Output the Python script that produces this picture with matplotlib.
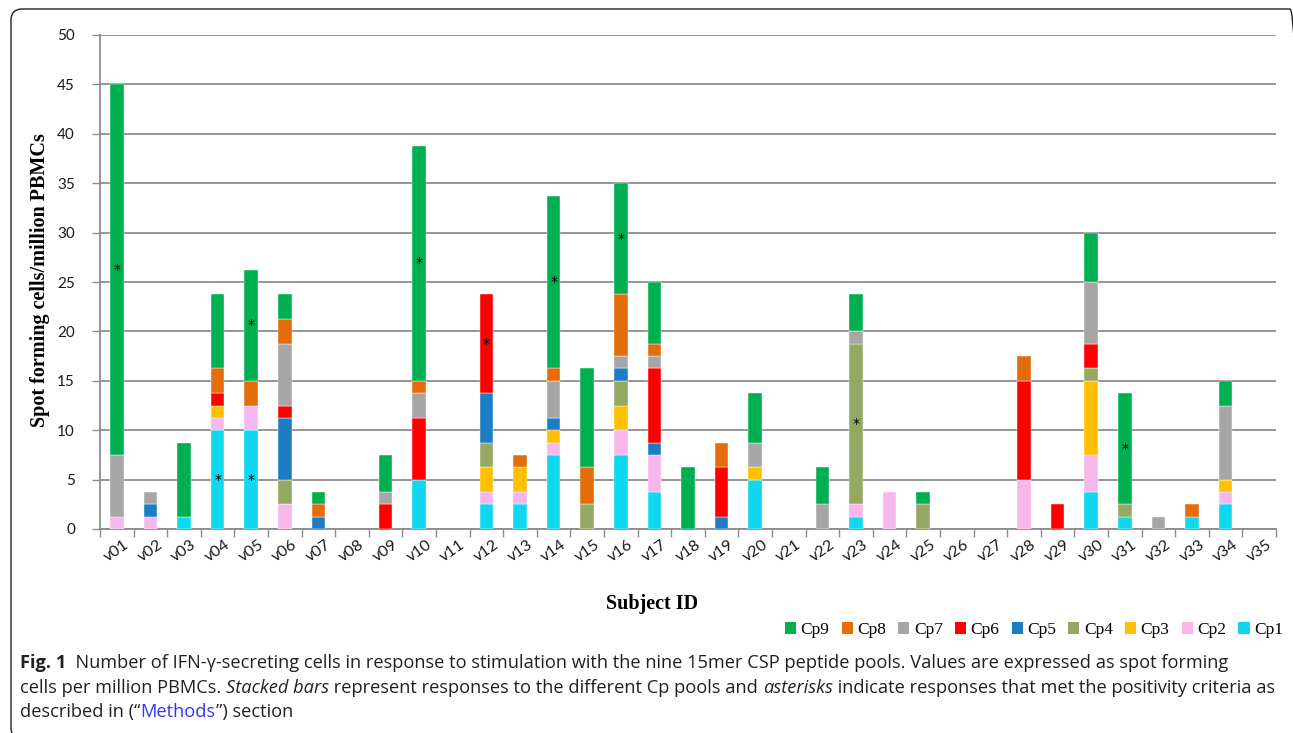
import matplotlib
matplotlib.use("Agg")
import matplotlib.pyplot as plt
from matplotlib.patches import Patch, FancyBboxPatch
from matplotlib import font_manager
import numpy as np

subjects = ["v%02d" % i for i in range(1, 36)]
pools = ["Cp1", "Cp2", "Cp3", "Cp4", "Cp5", "Cp6", "Cp7", "Cp8", "Cp9"]
colors = ["#0FD7F0", "#F7B7EC", "#FFC000", "#94A862", "#1C7DC4",
          "#FF0000", "#A6A6A6", "#E46C0A", "#00B050"]

cp1 = [0, 0, 1.25, 10, 10, 0, 0, 0, 0, 5, 0, 2.5, 2.5, 7.5, 0, 7.5, 3.75, 0, 0, 5,
       0, 0, 1.25, 0, 0, 0, 0, 0, 0, 3.75, 1.25, 0, 1.25, 2.5, 0]
cp2 = [1.25, 1.25, 0, 1.25, 2.5, 2.5, 0, 0, 0, 0, 0, 1.25, 1.25, 1.25, 0, 2.5, 3.75, 0, 0, 0,
       0, 0, 1.25, 3.75, 0, 0, 0, 5, 0, 3.75, 0, 0, 0, 1.25, 0]
cp3 = [0, 0, 0, 1.25, 0, 0, 0, 0, 0, 0, 0, 2.5, 2.5, 1.25, 0, 2.5, 0, 0, 0, 1.25,
       0, 0, 0, 0, 0, 0, 0, 0, 0, 7.5, 0, 0, 0, 1.25, 0]
cp4 = [0, 0, 0, 0, 0, 2.5, 0, 0, 0, 0, 0, 2.5, 0, 0, 2.5, 2.5, 0, 0, 0, 0,
       0, 0, 16.25, 0, 2.5, 0, 0, 0, 0, 1.25, 1.25, 0, 0, 0, 0]
cp5 = [0, 1.25, 0, 0, 0, 6.25, 1.25, 0, 0, 0, 0, 5, 0, 1.25, 0, 1.25, 1.25, 0, 1.25, 0,
       0, 0, 0, 0, 0, 0, 0, 0, 0, 0, 0, 0, 0, 0, 0]
cp6 = [0, 0, 0, 1.25, 0, 1.25, 0, 0, 2.5, 6.25, 0, 10, 0, 0, 0, 0, 7.5, 0, 5, 0,
       0, 0, 0, 0, 0, 0, 0, 10, 2.5, 2.5, 0, 0, 0, 0, 0]
cp7 = [6.25, 1.25, 0, 0, 0, 6.25, 0, 0, 1.25, 2.5, 0, 0, 0, 3.75, 0, 1.25, 1.25, 0, 0, 2.5,
       0, 2.5, 1.25, 0, 0, 0, 0, 0, 0, 6.25, 0, 1.25, 0, 7.5, 0]
cp8 = [0, 0, 0, 2.5, 2.5, 2.5, 1.25, 0, 0, 1.25, 0, 0, 1.25, 1.25, 3.75, 6.25, 1.25, 0, 2.5, 0,
       0, 0, 0, 0, 0, 0, 0, 2.5, 0, 0, 0, 0, 1.25, 0, 0]
cp9 = [37.5, 0, 7.5, 7.5, 11.25, 2.5, 1.25, 0, 3.75, 23.75, 0, 0, 0, 17.5, 10, 11.25, 6.25, 6.25, 0, 5,
       0, 3.75, 3.75, 0, 1.25, 0, 0, 0, 0, 5, 11.25, 0, 0, 2.5, 0]

# responses that met the positivity criteria (subject, pool)
positives = [("v01", "Cp9"), ("v04", "Cp1"), ("v05", "Cp1"), ("v05", "Cp9"), ("v10", "Cp9"),
             ("v12", "Cp6"), ("v14", "Cp9"), ("v16", "Cp9"), ("v23", "Cp4"), ("v31", "Cp9")]

series = [cp1, cp2, cp3, cp4, cp5, cp6, cp7, cp8, cp9]

W, H = 1293, 733
fig = plt.figure(figsize=(W / 100, H / 100), dpi=100)
ax = fig.add_axes([100 / W, (H - 529) / H, 1176 / W, 494 / H])

x = np.arange(len(subjects))
bottom = np.zeros(len(subjects))
bottoms = {}
for name, vals, c in zip(pools, series, colors):
    vals = np.array(vals, dtype=float)
    edges = ["white" if v > 0 else "none" for v in vals]
    ax.bar(x, vals, 0.4, bottom=bottom, color=c, edgecolor=edges, linewidth=0.3, zorder=3)
    bottoms[name] = (bottom.copy(), vals)
    bottom = bottom + vals

for subj, pool in positives:
    i = subjects.index(subj)
    b, v = bottoms[pool]
    ax.text(i, b[i] + v[i] / 2, "*", ha="center", va="center", fontsize=10,
            color="black", zorder=4)

grid_c = "#8C8C8C"
ax.set_xlim(-0.5, len(subjects) - 0.5)
ax.set_ylim(0, 50)
ax.set_yticks(range(0, 51, 5))
ax.yaxis.grid(True, color=grid_c, linewidth=1.3, zorder=0)
ax.set_axisbelow(True)
for s in ["top", "right"]:
    ax.spines[s].set_visible(False)
for s in ["left", "bottom"]:
    ax.spines[s].set_color(grid_c)
    ax.spines[s].set_linewidth(1.3)
ax.tick_params(axis="y", length=6, color=grid_c, width=1.0, labelsize=11, pad=12)
ax.set_xticks(x)
ax.set_xticklabels(subjects, rotation=35, ha="center", fontsize=11.5)
ax.set_xticks(np.arange(-0.5, len(subjects)), minor=True)
ax.tick_params(axis="x", which="major", length=0, pad=6)
ax.tick_params(axis="x", which="minor", length=6, color=grid_c, width=1.0)
for lab in ax.get_xticklabels() + ax.get_yticklabels():
    lab.set_fontfamily("Lato")
    lab.set_color("#1a1a1a")

fig.text(40 / W, 1 - 280 / H, "Spot forming cells/million PBMCs", rotation=90,
         ha="center", va="center", fontsize=14.5, fontweight="bold", family="Liberation Serif")
fig.text(652 / W, 1 - 604 / H, "Subject ID", ha="center", va="center",
         fontsize=14.5, fontweight="bold", family="Liberation Serif")

handles = [Patch(facecolor=c, edgecolor="none", label=n)
           for n, c in zip(pools[::-1], colors[::-1])]
fig.legend(handles=handles, ncol=9, loc="center right", bbox_to_anchor=(1283 / W, 1 - 630 / H),
           frameon=False, prop={"family": "Liberation Serif", "size": 12.5},
           handlelength=0.65, handleheight=0.65, handletextpad=0.25, columnspacing=0.7,
           borderpad=0, borderaxespad=0)

# rounded frame around the figure panel (right and bottom edges run off the picture)
frame = FancyBboxPatch((11, -6), 1290, H - 9 + 6, boxstyle="round,pad=0,rounding_size=11",
                       transform=None, facecolor="none", edgecolor="#222222", linewidth=1.0)
fig.patches.append(frame)

# caption
names = {f.name for f in font_manager.fontManager.ttflist}
cap_font = "Open Sans" if "Open Sans" in names else "DejaVu Sans"
renderer = fig.canvas.get_renderer()
cap_color = "#231F20"

line1 = [("Fig. 1", {"fontweight": "bold"}),
         ("  Number of IFN-γ-secreting cells in response to stimulation with the nine 15mer CSP "
          "peptide pools. Values are expressed as spot forming", {})]
line2 = [("cells per million PBMCs. ", {}), ("Stacked bars", {"style": "italic"}),
         (" represent responses to the different Cp pools and ", {}),
         ("asterisks", {"style": "italic"}),
         (" indicate responses that met the positivity criteria as", {})]
line3 = [("described in (“", {}), ("Methods", {"color": "#3333FF"}), ("”) section", {})]


def piece_width(s, kw, size):
    t1 = fig.text(0, 0, "|" + s + "|", family=cap_font, fontsize=size, **kw)
    t2 = fig.text(0, 0, "||", family=cap_font, fontsize=size, **kw)
    w = t1.get_window_extent(renderer).width - t2.get_window_extent(renderer).width
    t1.remove()
    t2.remove()
    return w


size = 11
w1 = sum(piece_width(s, kw, size) for s, kw in line1)
size = size * 1213 / w1

for ypix, line in [(663, line1), (688, line2), (712, line3)]:
    xp = 20
    for s, kw in line:
        props = {"color": cap_color}
        props.update(kw)
        fig.text(xp / W, 1 - ypix / H, s, family=cap_font, fontsize=size,
                 ha="left", va="center", **props)
        xp += piece_width(s, kw, size)

fig.savefig("out.png", dpi=100, facecolor="white")
